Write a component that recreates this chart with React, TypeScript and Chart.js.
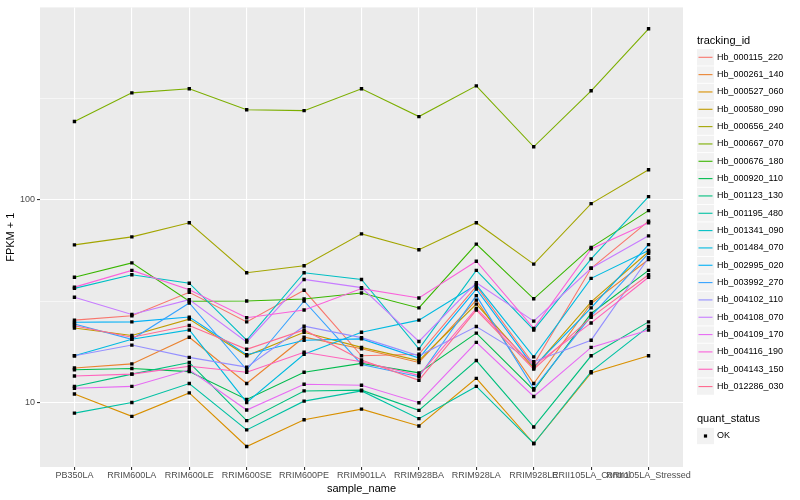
import { useEffect, useRef } from 'react';
import { Chart, registerables } from 'chart.js';

Chart.register(...registerables);

const sampleNames = [
  'PB350LA', 'RRIM600LA', 'RRIM600LE', 'RRIM600SE', 'RRIM600PE', 'RRIM901LA',
  'RRIM928BA', 'RRIM928LA', 'RRIM928LE', 'RRII105LA_Control', 'RRII105LA_Stressed',
];

const trackingIds = [
  'Hb_000115_220', 'Hb_000261_140', 'Hb_000527_060', 'Hb_000580_090', 'Hb_000656_240',
  'Hb_000667_070', 'Hb_000676_180', 'Hb_000920_110', 'Hb_001123_130', 'Hb_001195_480',
  'Hb_001341_090', 'Hb_001484_070', 'Hb_002995_020', 'Hb_003992_270', 'Hb_004102_110',
  'Hb_004108_070', 'Hb_004109_170', 'Hb_004116_190', 'Hb_004143_150', 'Hb_012286_030',
];

// FPKM + 1 per sample, one array per tracking_id
const hb000115_220 = [25.5, 26.8, 35.0, 25.0, 35.8, 17.0, 17.3, 37.5, 15.4, 46.0, 78.6];
const hb000261_140 = [14.8, 15.5, 21.0, 12.4, 21.0, 18.4, 15.75, 32.0, 12.4, 30.8, 50.8];
const hb000527_060 = [11.0, 8.54, 11.15, 6.06, 8.22, 9.27, 7.65, 13.15, 6.27, 14.0, 17.0];
const hb000580_090 = [23.3, 21.4, 25.8, 17.0, 22.2, 18.7, 16.1, 30.6, 14.8, 31.4, 55.5];
const hb000656_240 = [60, 65.7, 77.1, 43.7, 47.3, 68, 56.8, 77.2, 48.2, 95.9, 141];
const hb000667_070 = [244, 338, 354, 279, 276, 354, 258, 366, 183, 346, 700];
const hb000676_180 = [41.5, 48.9, 31.6, 31.7, 32.4, 34.7, 29.3, 60.5, 32.5, 58.3, 88.6];
const hb000920_110 = [14.5, 14.7, 14.2, 10.35, 14.1, 15.6, 14.0, 22.0, 11.5, 27.5, 44.9];
const hb001123_130 = [12.0, 13.8, 15.75, 8.13, 11.4, 11.5, 9.14, 16.1, 7.57, 17.0, 25.0];
const hb001195_480 = [8.86, 10.0, 12.4, 7.32, 10.15, 11.4, 8.32, 12.0, 6.27, 14.2, 23.7];
const hb001341_090 = [36.6, 42.7, 38.8, 20.3, 43.7, 40.5, 18.4, 44.9, 22.8, 51.2, 103.9];
const hb001484_070 = [17.0, 20.5, 22.8, 10.0, 17.3, 22.2, 25.5, 38.1, 16.8, 41.0, 56.3];
const hb002995_020 = [24.9, 25.0, 26.4, 17.2, 20.3, 20.6, 16.55, 36.3, 15.0, 29.3, 60.2];
const hb003992_270 = [24.4, 20.5, 31.0, 14.5, 31.7, 15.4, 13.4, 33.7, 11.7, 26.7, 54.5];
const hb004102_110 = [17.0, 19.2, 16.7, 14.95, 23.8, 20.9, 17.0, 23.7, 15.9, 20.3, 51.8];
const hb004108_070 = [33.1, 27.2, 32.2, 19.9, 40.5, 36.9, 20.0, 39.0, 25.2, 46.0, 66.5];
const hb004109_170 = [11.75, 12.0, 14.5, 9.17, 12.3, 12.16, 9.97, 19.8, 10.7, 18.7, 22.8];
const hb004116_190 = [37.1, 44.9, 36.0, 26.2, 28.6, 36.5, 32.8, 49.8, 23.2, 57.3, 77.1];
const hb004143_150 = [13.5, 13.8, 15.1, 14.1, 17.7, 15.9, 13.6, 29.1, 15.2, 24.7, 41.5];
const hb012286_030 = [23.9, 21.0, 24.0, 18.3, 22.8, 16.2, 12.86, 28.6, 14.6, 26.3, 42.7];

const seriesValues = [
  hb000115_220, hb000261_140, hb000527_060, hb000580_090, hb000656_240,
  hb000667_070, hb000676_180, hb000920_110, hb001123_130, hb001195_480,
  hb001341_090, hb001484_070, hb002995_020, hb003992_270, hb004102_110,
  hb004108_070, hb004109_170, hb004116_190, hb004143_150, hb012286_030,
];

const yMajorTicks = [10, 100];
const yMinorTicks = [31.62, 316.2];
const quantStatus = ['OK'];

const palette = [
  '#F8766D', '#EA8331', '#D89000', '#C09B00', '#A3A500', '#7CAE00', '#39B600',
  '#00BB4E', '#00BF7D', '#00C1A3', '#00BFC4', '#00BAE0', '#00B0F6', '#35A2FF',
  '#9590FF', '#C77CFF', '#E76BF3', '#FA62DB', '#FF62BC', '#FF6C91',
];

const FONT = "'Liberation Sans', Arial, Helvetica, sans-serif";

export default function App() {
  const ref = useRef<HTMLCanvasElement>(null);

  useEffect(() => {
    if (!ref.current) return;

    const lineSets = seriesValues.map((vals, s) => ({
      type: 'line' as const,
      label: trackingIds[s],
      data: vals.map((v, i) => ({ x: i, y: v })),
      borderColor: palette[s],
      backgroundColor: palette[s],
      borderWidth: 1.1,
      pointRadius: 0,
      pointHoverRadius: 0,
      fill: false,
      tension: 0,
      order: 100 - s,
    }));

    const pointSet = {
      type: 'scatter' as const,
      label: quantStatus[0],
      data: seriesValues.flatMap((vals) => vals.map((v, i) => ({ x: i, y: v }))),
      pointStyle: 'rect' as const,
      pointRadius: 2.4,
      pointHoverRadius: 2.4,
      backgroundColor: '#000000',
      borderColor: '#000000',
      borderWidth: 0,
      showLine: false,
      order: -1,
    };

    const panelBg = {
      id: 'panelBg',
      beforeDraw(c: any) {
        const { ctx, chartArea: a } = c;
        ctx.save();
        ctx.fillStyle = '#EBEBEB';
        ctx.fillRect(a.left, a.top, a.right - a.left, a.bottom - a.top);
        ctx.restore();
      },
    };

    const ggLegend = {
      id: 'ggLegend',
      afterDraw(c: any) {
        const ctx = c.ctx;
        ctx.save();
        ctx.textBaseline = 'middle';
        ctx.textAlign = 'left';
        ctx.fillStyle = '#000000';
        ctx.font = `11px ${FONT}`;
        ctx.fillText('tracking_id', 697, 40.5);
        trackingIds.forEach((id, s) => {
          const cy = 57.3 + s * 17.33;
          ctx.fillStyle = '#F2F2F2';
          ctx.fillRect(697, cy - 8.2, 17, 16.4);
          ctx.strokeStyle = palette[s];
          ctx.lineWidth = 1.1;
          ctx.beginPath();
          ctx.moveTo(698.5, cy);
          ctx.lineTo(712.5, cy);
          ctx.stroke();
          ctx.fillStyle = '#000000';
          ctx.font = `9px ${FONT}`;
          ctx.fillText(id, 717, cy);
        });
        ctx.font = `11px ${FONT}`;
        ctx.fillText('quant_status', 697, 419);
        const ky = 436;
        ctx.fillStyle = '#F2F2F2';
        ctx.fillRect(697, ky - 8.2, 17, 16.4);
        ctx.fillStyle = '#000000';
        ctx.fillRect(705.5 - 1.6, ky - 1.6, 3.2, 3.2);
        ctx.font = `9px ${FONT}`;
        ctx.fillText(quantStatus[0], 717, ky);
        ctx.restore();
      },
    };

    const isMinor = (v: number) => yMinorTicks.some((m) => Math.abs(m - v) < 1e-6);

    const chart = new Chart(ref.current, {
      type: 'line',
      data: { datasets: [...lineSets, pointSet] as any },
      options: {
        animation: false,
        responsive: false,
        maintainAspectRatio: false,
        devicePixelRatio: 1,
        layout: { padding: { left: 0, right: 117, top: 5, bottom: 0 } },
        plugins: { legend: { display: false }, tooltip: { enabled: false } },
        scales: {
          x: {
            type: 'linear',
            min: -0.6,
            max: sampleNames.length - 1 + 0.6,
            afterBuildTicks: (s: any) => {
              s.ticks = sampleNames.map((_, i) => ({ value: i }));
            },
            afterFit: (s: any) => {
              s.height = 33;
            },
            ticks: {
              callback: (v: any) => sampleNames[v] ?? '',
              autoSkip: false,
              maxRotation: 0,
              minRotation: 0,
              font: { family: FONT, size: 9 },
              color: '#4D4D4D',
              padding: 0,
            },
            grid: {
              color: '#FFFFFF',
              lineWidth: 1.1,
              tickColor: '#333333',
              tickLength: 3,
            },
            border: { display: false },
            title: {
              display: true,
              text: 'sample_name',
              font: { family: FONT, size: 11 },
              color: '#000000',
              padding: { top: 0, bottom: 4 },
            },
          },
          y: {
            type: 'logarithmic',
            min: 4.8,
            max: 893,
            afterBuildTicks: (s: any) => {
              s.ticks = [...yMajorTicks, ...yMinorTicks]
                .sort((a, b) => a - b)
                .map((v) => ({ value: v }));
            },
            afterFit: (s: any) => {
              s.width = 40;
            },
            ticks: {
              callback: (v: any) => (yMajorTicks.includes(v) ? String(v) : ''),
              autoSkip: false,
              font: { family: FONT, size: 9 },
              color: '#4D4D4D',
              padding: 2,
            },
            grid: {
              color: '#FFFFFF',
              lineWidth: (ctx: any) => (ctx.tick && isMinor(ctx.tick.value) ? 0.55 : 1.1),
              tickColor: (ctx: any) =>
                ctx.tick && isMinor(ctx.tick.value) ? 'rgba(0,0,0,0)' : '#333333',
              tickLength: 3,
            },
            border: { display: false },
            title: {
              display: true,
              text: 'FPKM + 1',
              font: { family: FONT, size: 11 },
              color: '#000000',
              padding: { top: 4, bottom: 2 },
            },
          },
        },
      } as any,
      plugins: [panelBg, ggLegend],
    });

    return () => chart.destroy();
  }, []);

  return (
    <div style={{ position: 'absolute', left: 0, top: 0, width: 800, height: 500, background: '#FFFFFF' }}>
      <canvas ref={ref} width={800} height={500} style={{ width: 800, height: 500, display: 'block' }} />
    </div>
  );
}
